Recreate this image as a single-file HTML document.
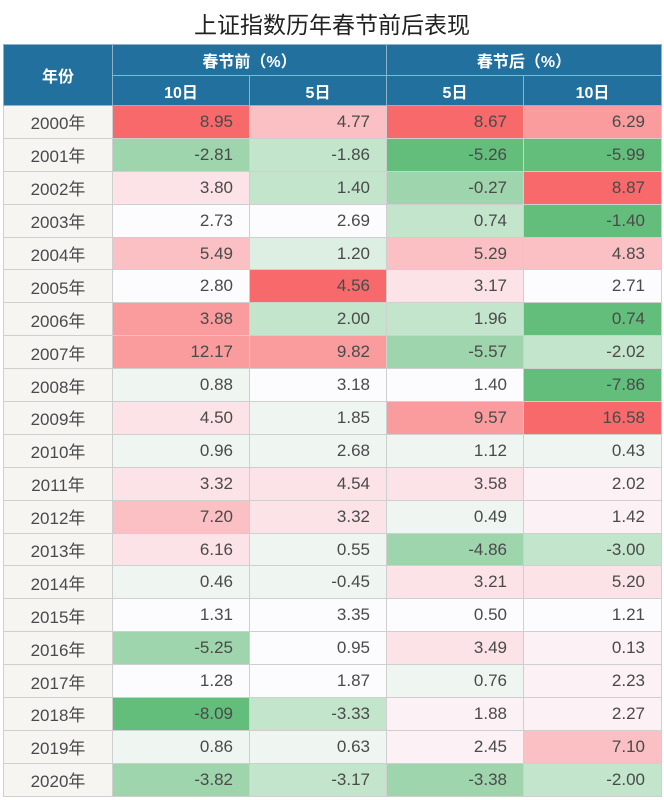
<!DOCTYPE html>
<html><head><meta charset="utf-8"><style>
body{margin:0;width:664px;height:800px;background:#fff;font-family:"Liberation Sans","Noto Sans CJK SC",sans-serif;overflow:hidden}
.title{position:absolute;top:6px;left:0;width:664px;text-align:center;font-size:23px;color:#222}
table{position:absolute;top:44px;left:3px;border-collapse:collapse;table-layout:fixed}
td,th{padding:0;border:1px solid #cfcfcf}
th{background:#21709e;color:#fff;font-size:16px;font-weight:bold;border-color:#8fb3cc}
td{font-size:17px;color:#4a4a4a;text-align:right;padding-right:16px;height:31.9px}
td.y{text-align:center;padding-right:0;background:#f7f5f2}
</style></head><body>
<div class="title">上证指数历年春节前后表现</div>
<table id="t">
<colgroup><col style="width:109px"><col style="width:137px"><col style="width:137px"><col style="width:137px"><col style="width:138px"></colgroup>
<tr style="height:31px"><th rowspan="2">年份</th><th colspan="2">春节前（%）</th><th colspan="2">春节后（%）</th></tr>
<tr style="height:30px"><th>10日</th><th>5日</th><th>5日</th><th>10日</th></tr>
</table>
<script>
var C={R3:'#f8696b',R2:'#fa9c9e',R1:'#fbc0c4',R0:'#fce3e7',P:'#fcf1f4',W:'#fcfcff',w:'#eff6f2',G0:'#dcefe2',G1:'#c2e5cc',G2:'#9fd5ad',G3:'#63be7b'};
var d=[[[8.95,'R3'],[4.77,'R1'],[8.67,'R3'],[6.29,'R2']],
[[-2.81,'G2'],[-1.86,'G1'],[-5.26,'G3'],[-5.99,'G3']],
[[3.80,'R0'],[1.40,'G1'],[-0.27,'G2'],[8.87,'R3']],
[[2.73,'W'],[2.69,'W'],[0.74,'G1'],[-1.40,'G3']],
[[5.49,'R1'],[1.20,'G0'],[5.29,'R1'],[4.83,'R1']],
[[2.80,'W'],[4.56,'R3'],[3.17,'R0'],[2.71,'W']],
[[3.88,'R2'],[2.00,'G1'],[1.96,'G1'],[0.74,'G3']],
[[12.17,'R2'],[9.82,'R2'],[-5.57,'G2'],[-2.02,'G1']],
[[0.88,'w'],[3.18,'W'],[1.40,'W'],[-7.86,'G3']],
[[4.50,'R0'],[1.85,'w'],[9.57,'R2'],[16.58,'R3']],
[[0.96,'w'],[2.68,'w'],[1.12,'w'],[0.43,'w']],
[[3.32,'R0'],[4.54,'R0'],[3.58,'R0'],[2.02,'P']],
[[7.20,'R1'],[3.32,'R0'],[0.49,'w'],[1.42,'P']],
[[6.16,'R0'],[0.55,'w'],[-4.86,'G2'],[-3.00,'G1']],
[[0.46,'w'],[-0.45,'w'],[3.21,'R0'],[5.20,'R0']],
[[1.31,'W'],[3.35,'W'],[0.50,'W'],[1.21,'W']],
[[-5.25,'G2'],[0.95,'W'],[3.49,'R0'],[0.13,'P']],
[[1.28,'W'],[1.87,'W'],[0.76,'w'],[2.23,'P']],
[[-8.09,'G3'],[-3.33,'G1'],[1.88,'P'],[2.27,'P']],
[[0.86,'w'],[0.63,'w'],[2.45,'P'],[7.10,'R1']],
[[-3.82,'G2'],[-3.17,'G1'],[-3.38,'G2'],[-2.00,'G1']]];
var t=document.getElementById('t');
d.forEach(function(r,i){var tr=document.createElement('tr');var h='<td class="y">'+(2000+i)+'年</td>';
r.forEach(function(x){h+='<td style="background:'+C[x[1]]+'">'+x[0].toFixed(2)+'</td>';});tr.innerHTML=h;t.appendChild(tr);});
</script>
</body></html>
